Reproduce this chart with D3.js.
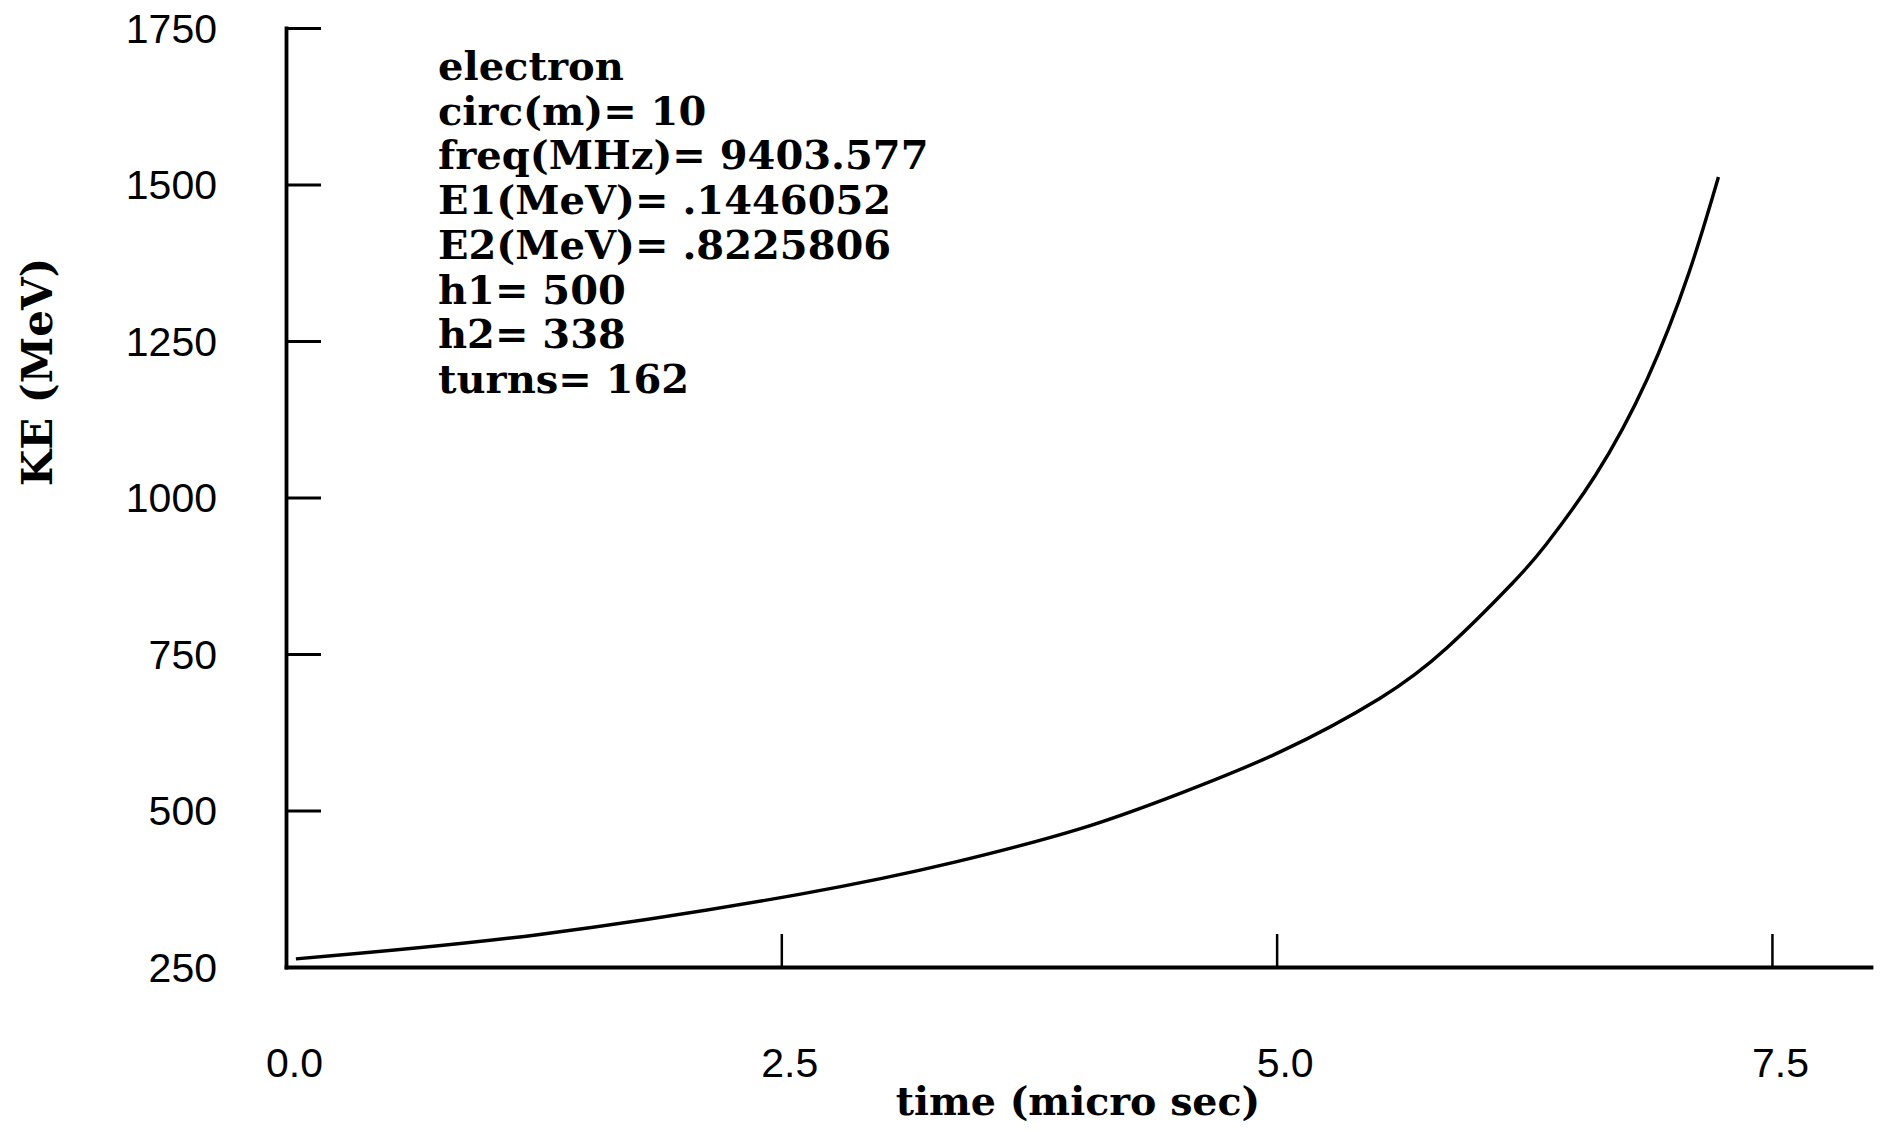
<!DOCTYPE html>
<html>
<head>
<meta charset="utf-8">
<title>KE vs time</title>
<script src="https://cdn.jsdelivr.net/npm/d3@7"></script>
<style>
    body { margin: 0; background: #fff; }
    .axis-label { font-family: "Liberation Sans", Arial, sans-serif; font-size: 41px; fill: #000; }
    .cm-bold { font-family: "DejaVu Serif", serif; font-weight: bold; fill: #000; }
</style>
</head>
<body>
<div id="chartDiv"></div>
<script>
// values
const timeUs = [0.05, 1.28, 2.59, 3.37, 4.01, 4.51, 5.02, 5.52, 5.86, 6.19, 6.36, 6.61, 6.87, 7.08, 7.23];
const keMeV  = [263, 302, 366, 417, 471, 527, 594, 679, 760, 863, 925, 1036, 1189, 1358, 1512];

const xTicks = [0, 2.5, 5, 7.5];
const yTicks = [250, 500, 750, 1000, 1250, 1500, 1750];

const infoLines = [
    "electron",
    "circ(m)= 10",
    "freq(MHz)= 9403.577",
    "E1(MeV)= .1446052",
    "E2(MeV)= .8225806",
    "h1= 500",
    "h2= 338",
    "turns= 162"
];

const xTitle = "time (micro sec)";
const yTitle = "KE (MeV)";

class KEChart {
    constructor(parentElement){
        this.parentElement = parentElement;
        this.data = timeUs.map((t, i) => ({t: t, ke: keMeV[i]}));
        this.initVis();
    }

    initVis(){
        let vis = this;

        vis.margin = {top: 28, right: 12, bottom: 163, left: 286};
        vis.width = 1883 - vis.margin.left - vis.margin.right;
        vis.height = 1130 - vis.margin.top - vis.margin.bottom;

        vis.svg = d3.select("#" + vis.parentElement).append("svg")
            .attr("width", 1883)
            .attr("height", 1130)
            .append("g")
            .attr("transform", "translate(" + vis.margin.left + "," + vis.margin.top + ")");

        vis.x = d3.scaleLinear().domain([0, 8]).range([0, vis.width]);
        vis.y = d3.scaleLinear().domain([250, 1750]).range([vis.height, 0]);

        vis.xAxis = d3.axisBottom(vis.x)
            .tickValues(xTicks)
            .tickSizeInner(-33)
            .tickSizeOuter(0)
            .tickFormat(d3.format(".1f"));

        vis.yAxis = d3.axisLeft(vis.y)
            .tickValues(yTicks)
            .tickSizeInner(-35)
            .tickSizeOuter(0)
            .tickPadding(69)
            .tickFormat(d3.format("d"));

        vis.updateVis();
    }

    updateVis(){
        let vis = this;

        // x axis, ticks pointing inward
        let gx = vis.svg.append("g")
            .attr("class", "x-axis")
            .attr("transform", "translate(0," + vis.height + ")")
            .call(vis.xAxis);
        gx.select(".domain").attr("stroke-width", 3.8).attr("stroke-linecap", "square");
        gx.selectAll(".tick line").attr("stroke-width", 2.5);
        gx.selectAll(".tick text")
            .attr("class", "axis-label")
            .attr("font-family", null).attr("font-size", null)
            .attr("y", 110).attr("dy", 0).attr("dx", 8);

        // y axis
        let gy = vis.svg.append("g")
            .attr("class", "y-axis")
            .call(vis.yAxis);
        gy.select(".domain").attr("stroke-width", 3.8).attr("stroke-linecap", "square");
        gy.selectAll(".tick line").attr("stroke-width", 3);
        gy.selectAll(".tick text")
            .attr("class", "axis-label")
            .attr("font-family", null).attr("font-size", null)
            .attr("dy", "0.35em");

        // the curve
        let line = d3.line()
            .x(d => vis.x(d.t))
            .y(d => vis.y(d.ke))
            .curve(d3.curveNatural);

        vis.svg.append("path")
            .datum(vis.data)
            .attr("fill", "none")
            .attr("stroke", "#000")
            .attr("stroke-width", 3.4)
            .attr("d", line);

        // run parameters
        vis.svg.append("g")
            .selectAll("text")
            .data(infoLines)
            .enter()
            .append("text")
            .attr("class", "cm-bold")
            .attr("font-size", "40px")
            .attr("x", 152)
            .attr("y", (d, i) => 52 + i * 44.7)
            .text(d => d);

        // axis titles
        vis.svg.append("text")
            .attr("class", "cm-bold")
            .attr("font-size", "39.5px")
            .attr("text-anchor", "middle")
            .attr("x", (1078 - vis.margin.left))
            .attr("y", vis.height + 148)
            .text(xTitle);

        vis.svg.append("text")
            .attr("class", "cm-bold")
            .attr("font-size", "42px")
            .attr("text-anchor", "middle")
            .attr("transform", "translate(" + (52 - vis.margin.left) + "," + (372 - vis.margin.top) + ") rotate(-90)")
            .text(yTitle);
    }
}

new KEChart("chartDiv");
</script>
</body>
</html>
